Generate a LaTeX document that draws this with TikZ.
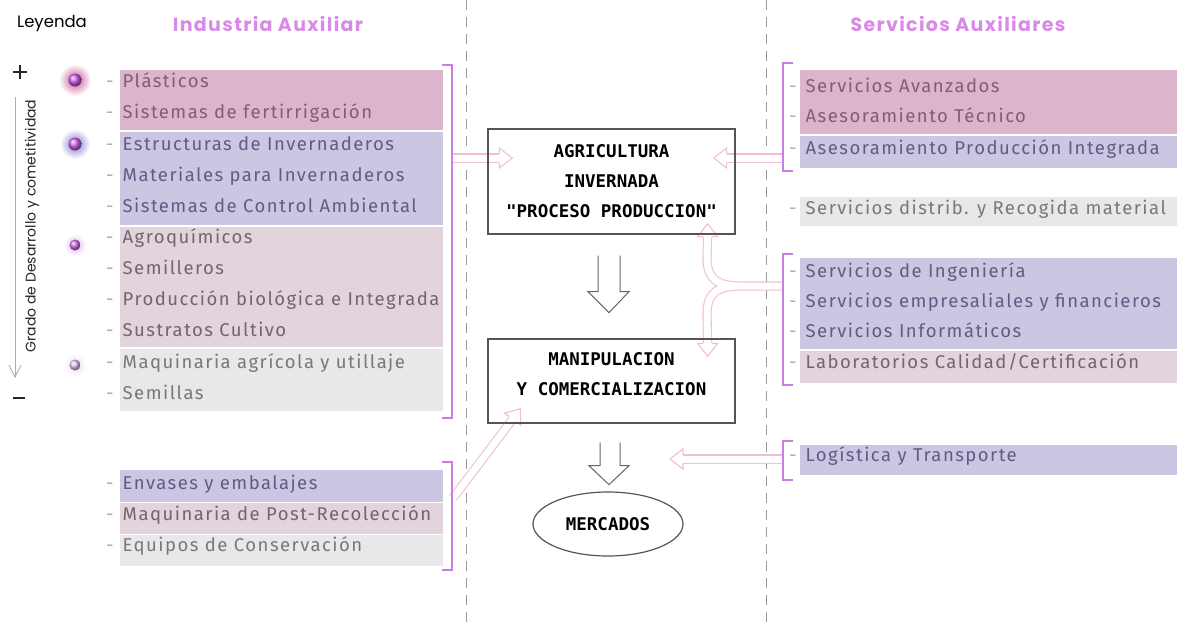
\documentclass[tikz,border=0pt]{standalone}
\usepackage{fontspec}
\setmainfont{Fira Sans}
\newfontfamily\itemfont{Fira Sans}[LetterSpace=8]
\newfontfamily\headfont{Poppins}[LetterSpace=7]
\newfontfamily\legfont{Poppins}
\newfontfamily\boxfont{DejaVu Sans Mono}
\usetikzlibrary{shapes.geometric,calc,backgrounds}
\pgfdeclarelayer{arrowlayer}
\pgfsetlayers{background,arrowlayer,main}
\definecolor{bandpink}{HTML}{DCB5CD}
\definecolor{bandlav}{HTML}{CDC6E2}
\definecolor{bandlpink}{HTML}{E3D3DD}
\definecolor{bandgray}{HTML}{E9E7E9}
\definecolor{tpink}{HTML}{7F5F76}
\definecolor{tlav}{HTML}{625B85}
\definecolor{tlpink}{HTML}{74646F}
\definecolor{tgray}{HTML}{7A777A}
\definecolor{dashc}{HTML}{AAAAAA}
\definecolor{violet}{HTML}{C87EE6}
\definecolor{headc}{HTML}{D98AE6}
\definecolor{pinkc}{HTML}{F2BDDA}
\definecolor{sepc}{HTML}{9A9A9A}
\definecolor{boxc}{HTML}{555555}
\tikzset{
  item/.style={anchor=mid west, inner sep=0pt, font=\itemfont\fontsize{18.5}{20}\selectfont},
  bracket/.style={draw=violet, line width=2.8pt},
  sepline/.style={draw=sepc, line width=1pt, dash pattern=on 10pt off 7pt},
  cbox/.style={draw=boxc, line width=1.3pt, minimum width=247pt, align=center, inner sep=0pt,
     font=\boxfont\bfseries\fontsize{17.5}{30}\selectfont},
  pshaft/.style={draw=pinkc, line width=1.1pt, double=white, double distance=7pt},
  pinkhead/.pic={\draw[pinkc, line width=1.1pt, fill=white, line join=miter]
      (-13,4.5) -- (-13,10) -- (0,0) -- (-13,-10) -- (-13,-4.5);},
  garrow/.style={draw=boxc!90, line width=1pt, line join=miter},
  legline/.style={draw=black!85, line width=1.3pt},
}
\newcommand{\itm}[1]{\textcolor{dashc}{-}\hspace{9pt}#1}
\begin{document}
\begin{tikzpicture}[x=1pt,y=-1pt]
\useasboundingbox (0,0) rectangle (1184,625);

% ---------- separators and bands ----------
\begin{pgfonlayer}{background}
\fill[white] (0,0) rectangle (1184,625);
\draw[sepline] (466,0) -- (466,625);
\draw[sepline] (766,0) -- (766,625);
% left bands
\fill[bandpink] (120,70) rectangle (443,130);
\fill[bandlav] (120,132) rectangle (443,225);
\fill[bandlpink] (120,227) rectangle (443,347);
\fill[bandgray] (120,349) rectangle (443,411);
\fill[bandlav] (120,470) rectangle (443,502);
\fill[bandlpink] (120,503) rectangle (443,534);
\fill[bandgray] (120,535) rectangle (443,566);
% right bands
\fill[bandpink] (800,70) rectangle (1177,134);
\fill[bandlav] (800,136) rectangle (1177,168);
\fill[bandgray] (800,197) rectangle (1177,226);
\fill[bandlav] (800,258) rectangle (1177,349);
\fill[bandlpink] (800,351) rectangle (1177,383);
\fill[bandlav] (800,445) rectangle (1177,475);
\end{pgfonlayer}

% ---------- headers ----------
\node[font=\legfont\fontsize{16.5}{18}\selectfont, text=black] (ley) at (52,24) {Leyenda};
\node[font=\headfont\bfseries\fontsize{19}{22}\selectfont, text=headc] (hind) at (268,24) {Industria Auxiliar};
\node[font=\headfont\bfseries\fontsize{19}{22}\selectfont, text=headc] (hserv) at (958,24) {Servicios Auxiliares};

% ---------- legend ----------
\draw[legline] (13,72) -- (27,72) (20,65) -- (20,79);
\draw[legline, line width=2pt] (13,398) -- (25,398);
\draw[draw=sepc!80, line width=0.9pt] (15,97) -- (15,377);
\draw[draw=sepc!80, line width=0.9pt] (9,365) -- (15,377) -- (21,365);
\node[rotate=90, font=\legfont\fontsize{14}{16}\selectfont, text=black!85] (grado) at (32,226) {Grado de Desarrollo y cometitividad};
% dots
\shade[inner color=magenta!55!red!70!black!70, outer color=white] (75,80) circle (16);
\shade[ball color=violet!80!magenta] (75,80) circle (6.5);
\shade[inner color=blue!50!violet!80!black!70, outer color=white] (75,144) circle (15);
\shade[ball color=violet!85!magenta] (75,144) circle (6.5);
\shade[inner color=violet!60, outer color=white] (75,245) circle (11);
\shade[ball color=violet!90!magenta] (75,245) circle (5.5);
\shade[inner color=violet!35, outer color=white] (75,365) circle (11);
\shade[ball color=violet!45] (75,365) circle (5.5);

% ---------- left items ----------
\node[item, text=tpink] (l1) at (106,85) {\itm{Plásticos}};
\node[item, text=tpink] (l2) at (106,116) {\itm{Sistemas de fertirrigación}};
\node[item, text=tlav] (l3) at (106,148) {\itm{Estructuras de Invernaderos}};
\node[item, text=tlav] (l4) at (106,179) {\itm{Materiales para Invernaderos}};
\node[item, text=tlav] (l5) at (106,210) {\itm{Sistemas de Control Ambiental}};
\node[item, text=tlpink] (l6) at (106,241) {\itm{Agroquímicos}};
\node[item, text=tlpink] (l7) at (106,272) {\itm{Semilleros}};
\node[item, text=tlpink] (l8) at (106,303) {\itm{Producción biológica e Integrada}};
\node[item, text=tlpink] (l9) at (106,334) {\itm{Sustratos Cultivo}};
\node[item, text=tgray] (l10) at (106,366) {\itm{Maquinaria agrícola y utillaje}};
\node[item, text=tgray] (l11) at (106,397) {\itm{Semillas}};
\node[item, text=tlav] (l12) at (106,487) {\itm{Envases y embalajes}};
\node[item, text=tlpink] (l13) at (106,518) {\itm{Maquinaria de Post-Recolección}};
\node[item, text=tgray] (l14) at (106,549) {\itm{Equipos de Conservación}};
\draw[bracket] (442,65) -- (452,65) -- (452,418) -- (442,418);
\draw[bracket] (442,462) -- (452,462) -- (452,570) -- (442,570);

% ---------- right items ----------
\node[item, text=tpink] (r1) at (789,90) {\itm{Servicios Avanzados}};
\node[item, text=tpink] (r2) at (789,120) {\itm{Asesoramiento Técnico}};
\node[item, text=tlav] (r3) at (789,152) {\itm{Asesoramiento Producción Integrada}};
\node[item, text=tgray] (r4) at (789,212) {\itm{Servicios distrib. y Recogida material}};
\node[item, text=tlav] (r5) at (789,275) {\itm{Servicios de Ingeniería}};
\node[item, text=tlav] (r6) at (789,305) {\itm{Servicios empresaliales y financieros}};
\node[item, text=tlav] (r7) at (789,335) {\itm{Servicios Informáticos}};
\node[item, text=tlpink] (r8) at (789,366) {\itm{Laboratorios Calidad/Certificación}};
\node[item, text=tlav] (r9) at (789,459) {\itm{Logística y Transporte}};
\draw[bracket] (793,63) -- (783,63) -- (783,171) -- (793,171);
\draw[bracket] (793,254) -- (783,254) -- (783,385) -- (793,385);
\draw[bracket] (793,441) -- (783,441) -- (783,480) -- (793,480);
\coordinate (brL1) at (452,158);
\coordinate (brL2) at (453,498);
\coordinate (brR1) at (783,158);
\coordinate (brR2) at (783,286);
\coordinate (brR3) at (783,459);

% ---------- centre boxes ----------
\node[cbox, minimum height=105pt] (box1) at (611.5,181.5) {AGRICULTURA\\INVERNADA\\"PROCESO PRODUCCION"};
\node[cbox, minimum height=84pt] (box2) at (611.5,381) {};
\node[align=center, inner sep=0pt, font=\boxfont\bfseries\fontsize{17.5}{30}\selectfont] (box2t) at (611.5,374) {MANIPULACION\\Y COMERCIALIZACION};
\node[draw=boxc, line width=1.2pt, ellipse, minimum width=150pt, minimum height=64pt, inner sep=0pt,
      font=\boxfont\bfseries\fontsize{17.5}{20}\selectfont] (merc) at (608,524) {MERCADOS};

% ---------- grey down arrows ----------
\coordinate (d1) at ($(box1.south)+(-2.5,21)$);
\coordinate (d2) at ($(box2.south)+(-2.5,19)$);
\draw[garrow] ($(d1)+(-11,0)$) -- ++(0,36) -- ++(-10,0) -- ($(d1)+(0,57)$) -- ($(d1)+(20,36)$) -- ++(-9,0) -- ($(d1)+(11,0)$);
\draw[garrow] ($(d2)+(-9,0)$) -- ++(0,23) -- ++(-11,0) -- ($(d2)+(0,42)$) -- ($(d2)+(20,23)$) -- ++(-9,0) -- ($(d2)+(11,0)$);

% ---------- pink hollow arrows ----------
\begin{pgfonlayer}{arrowlayer}
\coordinate (t1) at ($(box1.west)+(25,-23.5)$);
\draw[pshaft] (brL1) -- ($(t1)+(-13,0)$);
\pic at (t1) {pinkhead};
\coordinate (t2) at ($(box1.east)+(-22,-23.5)$);
\draw[pshaft] (brR1) -- ($(t2)+(13,0)$);
\pic[rotate=180] at (t2) {pinkhead};
\coordinate (t3) at ($(box1.south east)+(-28,-11)$);
\coordinate (t4) at ($(box2.north east)+(-28,18)$);
\draw[pshaft] (brR2) -- (742,286) .. controls (716,286) and (707,279) .. (707,257) -- ($(t3)+(0,13)$)
      (742,286) .. controls (716,286) and (707,293) .. (707,315) -- ($(t4)+(0,-13)$);
\pic[rotate=90] at (t3) {pinkhead};
\pic[rotate=-90] at (t4) {pinkhead};
\coordinate (t5) at ($(box2.south west)+(33,-15)$);
\draw[pshaft] (brL2) -- ($(t5)+(-7.7,10.5)$);
\pic[rotate=53.7] at (t5) {pinkhead};
\coordinate (t6) at (670,459);
\draw[pshaft] (brR3) -- ($(t6)+(13,0)$);
\pic[rotate=180] at (t6) {pinkhead};
\end{pgfonlayer}
\end{tikzpicture}
\end{document}
